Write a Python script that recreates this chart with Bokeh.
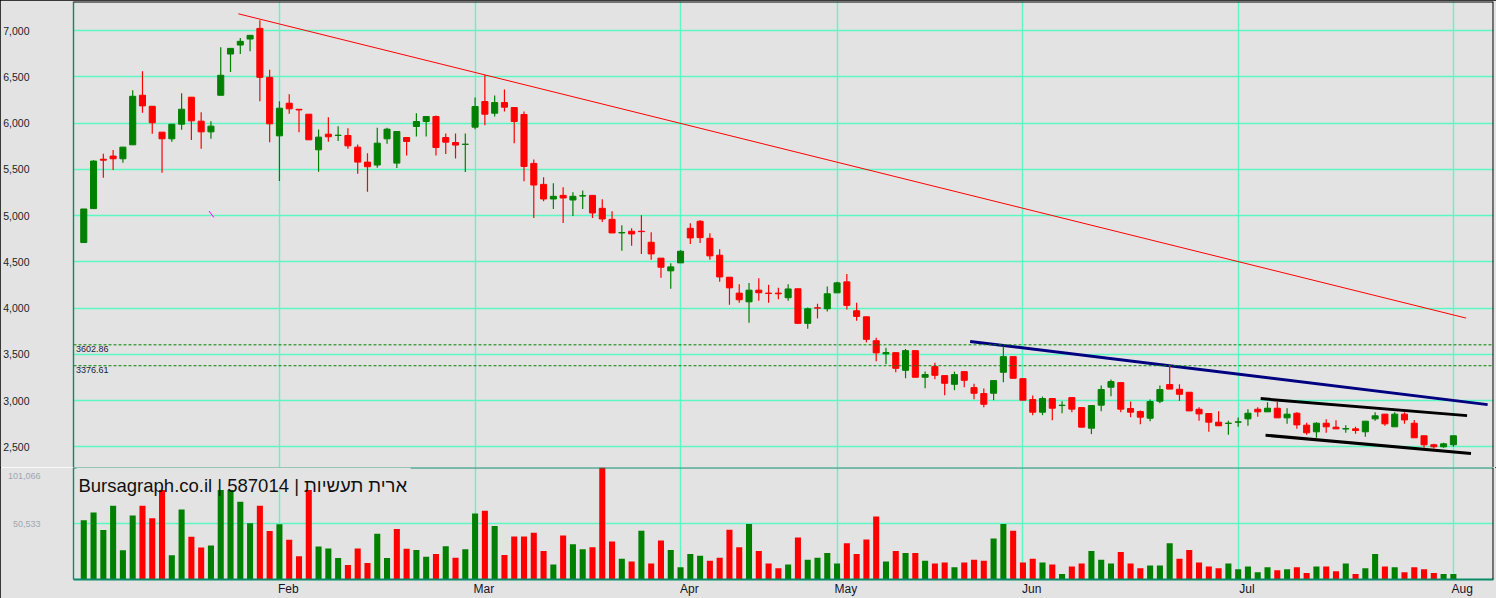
from bokeh.plotting import figure
from bokeh.layouts import column
from bokeh.models import (Range1d, FixedTicker, Span, Label, BoxAnnotation,
                          ColumnDataSource, NumeralTickFormatter)
from bokeh.embed import file_html
from bokeh.resources import INLINE

# ---------------- data ----------------
opens = [4709, 5076, 5610, 5644, 5615, 5766, 6302, 6183, 5903, 5831,
         5989, 6281, 6022, 5906, 6302, 6748, 6845, 6910, 7025, 6496,
         5863, 6216, 6150, 6097, 5712, 5881, 5867, 5867, 5741, 5579,
         5547, 5831, 5568, 5845, 5964, 6018, 6072, 5845, 5791, 5770,
         5957, 6234, 6108, 6223, 6169, 6094, 5565, 5338, 5180, 5219,
         5169, 5212, 5219, 5079, 4960, 4813, 4831, 4831, 4712, 4540,
         4403, 4489, 4863, 4939, 4755, 4572, 4334, 4162, 4068, 4194,
         4162, 4162, 4112, 4209, 3835, 4003, 3993, 4165, 4284, 3971,
         3906, 3647, 3505, 3518, 3327, 3540, 3252, 3367, 3270, 3176,
         3313, 3140, 3076, 3079, 3306, 3475, 3237, 3011, 2874, 3022,
         2946, 3032, 2924, 2701, 2950, 3144, 3194, 2914, 2881, 2809,
         2993, 3173, 3122, 3090, 2906, 2860, 2766, 2752, 2766, 2802,
         2906, 2878, 2917, 2813, 2863, 2734, 2662, 2755, 2712, 2692,
         2694, 2662, 2802, 2853, 2716, 2853, 2755, 2619, 2522, 2500,
         2522]
highs = [5072, 5600, 5669, 5709, 5741, 6356, 6561, 6183, 5903, 5989,
         6324, 6281, 6119, 6022, 6820, 6809, 6921, 6950, 7112, 6579,
         6237, 6313, 6150, 6097, 5932, 6065, 5968, 5946, 5770, 5676,
         5950, 5950, 5914, 5845, 6108, 6072, 6083, 5888, 5888, 5888,
         6277, 6522, 6300, 6363, 6169, 6126, 5608, 5414, 5349, 5306,
         5252, 5273, 5219, 5176, 5047, 4896, 4863, 5004, 4820, 4540,
         4486, 4626, 4917, 4950, 4809, 4637, 4334, 4259, 4271, 4324,
         4252, 4220, 4259, 4209, 4007, 4047, 4234, 4284, 4370, 4058,
         3906, 3680, 3572, 3518, 3558, 3540, 3313, 3410, 3270, 3313,
         3313, 3183, 3130, 3216, 3586, 3475, 3237, 3054, 3043, 3022,
         2993, 3032, 2924, 2946, 3162, 3227, 3194, 2989, 2892, 3011,
         3162, 3378, 3176, 3090, 2928, 2860, 2885, 2781, 2817, 2906,
         2928, 2982, 2993, 2917, 2874, 2759, 2766, 2799, 2788, 2734,
         2716, 2777, 2874, 2853, 2874, 2874, 2791, 2619, 2532, 2543,
         2619]
lows = [4709, 5076, 5410, 5493, 5572, 5766, 6112, 5885, 5464, 5799,
        5928, 5817, 5723, 5831, 6302, 6554, 6748, 6777, 6237, 5795,
        5374, 6101, 5903, 5820, 5475, 5799, 5806, 5723, 5453, 5259,
        5518, 5777, 5514, 5651, 5856, 5856, 5651, 5666, 5619, 5471,
        5935, 5978, 6072, 6126, 5784, 5371, 4975, 5155, 5072, 4921,
        4996, 5072, 4975, 4932, 4813, 4619, 4673, 4586, 4522, 4327,
        4209, 4489, 4694, 4705, 4522, 4284, 4036, 4058, 3842, 4079,
        4058, 4097, 4079, 3835, 3777, 3888, 3964, 4165, 3986, 3863,
        3630, 3424, 3392, 3306, 3241, 3252, 3133, 3230, 3058, 3112,
        3144, 3014, 2928, 3004, 3198, 3241, 3004, 2842, 2842, 2788,
        2863, 2874, 2712, 2637, 2885, 3047, 2874, 2820, 2745, 2777,
        2971, 3124, 2996, 2888, 2781, 2662, 2727, 2630, 2716, 2727,
        2824, 2878, 2813, 2748, 2694, 2630, 2597, 2651, 2694, 2651,
        2640, 2608, 2781, 2727, 2716, 2748, 2597, 2489, 2478, 2489,
        2500]
closes = [5072, 5590, 5600, 5615, 5741, 6291, 6187, 6004, 5831, 5989,
          6151, 6025, 5906, 5968, 6518, 6809, 6885, 6950, 6496, 5993,
          6162, 6155, 6143, 5820, 5849, 5853, 5870, 5755, 5579, 5529,
          5784, 5935, 5910, 5802, 6018, 6072, 5737, 5795, 5763, 5773,
          6180, 6097, 6223, 6173, 6018, 5532, 5331, 5180, 5209, 5191,
          5209, 5216, 5029, 4964, 4813, 4817, 4802, 4827, 4586, 4442,
          4446, 4615, 4759, 4762, 4565, 4337, 4219, 4090, 4194, 4166,
          4158, 4155, 4207, 3835, 3993, 4000, 4155, 4273, 4029, 3910,
          3662, 3516, 3519, 3349, 3540, 3252, 3281, 3273, 3187, 3281,
          3219, 3079, 2960, 3216, 3475, 3241, 3004, 2874, 3022, 2917,
          2950, 2907, 2712, 2946, 3119, 3205, 2907, 2874, 2820, 2989,
          3119, 3124, 3068, 2888, 2856, 2766, 2727, 2756, 2770, 2863,
          2878, 2917, 2813, 2853, 2737, 2651, 2755, 2716, 2694, 2697,
          2676, 2777, 2835, 2748, 2853, 2791, 2597, 2522, 2500, 2532,
          2619]
volumes = [53450, 60450, 44700, 66600, 26300, 57800, 66600, 55200, 86000, 21900,
           63100, 38500, 28900, 30700, 84000, 88000, 70100, 50800, 66600, 43800,
           49900, 35900, 21000, 85000, 29800, 28000, 19300, 13100, 28000, 14900,
           41200, 19300, 45600, 27700, 26600, 20500, 23100, 30000, 19600, 27400,
           59500, 62100, 48200, 22200, 38700, 38700, 42200, 25700, 13600, 39600,
           31800, 27400, 29200, 101000, 34400, 18800, 16200, 43900, 14400, 35200,
           26600, 11000, 23100, 21400, 17000, 19600, 44800, 29200, 50000, 25700,
           14400, 10100, 13600, 37800, 17900, 19600, 24000, 14400, 32600, 23100,
           36100, 56900, 16200, 25700, 24000, 24000, 17000, 14400, 15300, 11000,
           15300, 17900, 17000, 37000, 50000, 43900, 15300, 18800, 15300, 13600,
           4900, 11800, 14400, 25700, 17900, 14400, 24800, 14400, 10100, 12700,
           12700, 32600, 18800, 26600, 15300, 11800, 10100, 14400, 9200, 11800,
           6600, 11000, 8400, 9200, 11000, 5800, 11800, 11800, 7500, 14400,
           4900, 10100, 23100, 11800, 11000, 6600, 11000, 9200, 5800, 4900,
           4900]

month_starts = [21, 41, 62, 78, 97, 119, 141]          # trading-day index of 1st session
month_labels = ["Feb", "Mar", "Apr", "May", "Jun", "Jul", "Aug"]
price_ticks = [2500, 3000, 3500, 4000, 4500, 5000, 5500, 6000, 6500, 7000]
vol_ticks = [50533, 101066]
level_values = [3602.86, 3376.61]
level_labels = ["3602.86", "3376.61"]

# trend lines drawn on the chart (index, price)
red_trend_x = [16.8, 142.3]
red_trend_y = [7183, 3892]
blue_trend_x = [91.6, 144.5]
blue_trend_y = [3639, 2956]
chan_top_x = [121.3, 142.4]
chan_top_y = [3021, 2837]
chan_bot_x = [121.8, 142.8]
chan_bot_y = [2625, 2427]
stray_x = [13.8, 14.3]
stray_y = [5050, 4980]

title_text = "Bursagraph.co.il | 587014 | ארית תעשיות"

# ---------------- styling ----------------
BG = "#E3E3E3"
GRID = "#5EF7C4"
FRAME = "#0B8A68"
UP = "#008000"
DOWN = "#FF0000"
FONT = "Liberation Sans"

n = len(closes)
idx = list(range(1, n + 1))
body_col = [UP if c >= o else DOWN for o, c in zip(opens, closes)]
vol_col = [UP] + [UP if closes[i] >= closes[i - 1] else DOWN for i in range(1, n)]

src = ColumnDataSource(dict(
    x=idx, o=opens, h=highs, l=lows, c=closes, v=volumes,
    top=[max(o, c) for o, c in zip(opens, closes)],
    bot=[min(o, c) for o, c in zip(opens, closes)],
    bc=body_col, vc=vol_col,
))

X0, X1 = -0.05, 145.1
P0, P1 = 2276, 7316
xr = Range1d(X0, X1)
W = 1496

# ---------------- price panel ----------------
p = figure(width=W, height=467, x_range=xr, y_range=Range1d(P0, P1),
           output_backend="svg", toolbar_location=None,
           min_border_left=73, min_border_right=3, min_border_top=1, min_border_bottom=0)
p.background_fill_color = BG
p.border_fill_color = BG
p.outline_line_color = None
p.xaxis.visible = False
p.xgrid.ticker = FixedTicker(ticks=month_starts)
for g in (p.xgrid, p.ygrid):
    g.grid_line_color = GRID
    g.grid_line_width = 1.4
p.yaxis.ticker = FixedTicker(ticks=price_ticks)
p.yaxis.formatter = NumeralTickFormatter(format="0,0")
p.yaxis.major_label_standoff = 44
p.yaxis.major_tick_out = 0
p.yaxis.major_tick_in = 0
p.yaxis.minor_tick_out = 0
p.yaxis.minor_tick_in = 0
p.yaxis.axis_line_color = FRAME
p.yaxis.axis_line_width = 1.4
p.yaxis.major_label_text_font = FONT
p.yaxis.major_label_text_font_size = "10.5px"
p.yaxis.major_label_text_color = "#1E1E2A"

for lv, lt in zip(level_values, level_labels):
    p.add_layout(Span(location=lv, dimension="width", line_color=UP,
                      line_width=1, line_dash="3 2"))
    p.add_layout(Label(x=0.2, y=lv, text=lt, text_baseline="top", y_offset=-1,
                       text_font=FONT, text_font_size="9px", text_color="#1A1A3A"))

p.line(red_trend_x, red_trend_y, line_color="#FF0000", line_width=1)
p.line(blue_trend_x, blue_trend_y, line_color="#000080", line_width=3)
p.line(chan_top_x, chan_top_y, line_color="#000000", line_width=3)
p.line(chan_bot_x, chan_bot_y, line_color="#000000", line_width=3)
p.line(stray_x, stray_y, line_color="#FF00FF", line_width=1)

p.segment(x0="x", x1="x", y0="l", y1="h", source=src, line_color="bc", line_width=1.2)
p.vbar(x="x", width=0.62, top="top", bottom="bot", source=src,
       fill_color="bc", line_color="bc", line_width=1)

# picture border (top and right edges)
p.add_layout(Span(location=P1, dimension="width", line_color="#000000", line_width=2))
p.add_layout(Span(location=X1, dimension="height", line_color="#000000", line_width=2))

# ---------------- volume panel ----------------
v = figure(width=W, height=131, x_range=xr, y_range=Range1d(0, vol_ticks[1]),
           output_backend="svg", toolbar_location=None,
           min_border_left=73, min_border_right=3, min_border_top=0, min_border_bottom=16)
v.background_fill_color = BG
v.border_fill_color = BG
v.outline_line_color = None
v.xgrid.ticker = FixedTicker(ticks=month_starts)
v.ygrid.ticker = FixedTicker(ticks=vol_ticks[:1])
for g in (v.xgrid, v.ygrid):
    g.grid_line_color = GRID
    g.grid_line_width = 1.4

shift = 0.9  # month names start at their grid line
v.xaxis.ticker = FixedTicker(ticks=[m + shift for m in month_starts])
v.xaxis.major_label_overrides = {m + shift: lab for m, lab in zip(month_starts, month_labels)}
v.xaxis.major_tick_out = 0
v.xaxis.major_tick_in = 0
v.xaxis.minor_tick_out = 0
v.xaxis.minor_tick_in = 0
v.xaxis.major_label_standoff = 2
v.xaxis.axis_line_color = FRAME
v.xaxis.axis_line_width = 2
v.xaxis.major_label_text_font = FONT
v.xaxis.major_label_text_font_size = "12px"
v.xaxis.major_label_text_color = "#141428"

top_lab_drop = vol_ticks[1] * 9 / 115   # label printed just under its line
v.yaxis.ticker = FixedTicker(ticks=[vol_ticks[0], vol_ticks[1] - top_lab_drop])
v.yaxis.major_label_overrides = {vol_ticks[0]: f"{vol_ticks[0]:,}",
                                 vol_ticks[1] - top_lab_drop: f"{vol_ticks[1]:,}"}
v.yaxis.major_label_standoff = 33
v.yaxis.major_tick_out = 0
v.yaxis.major_tick_in = 0
v.yaxis.minor_tick_out = 0
v.yaxis.minor_tick_in = 0
v.yaxis.axis_line_color = FRAME
v.yaxis.axis_line_width = 1.4
v.yaxis.major_label_text_font = FONT
v.yaxis.major_label_text_font_size = "9px"
v.yaxis.major_label_text_color = "#9EA6B2"

v.vbar(x="x", width=0.62, top="v", bottom=0, source=src,
       fill_color="vc", line_color=None)

v.add_layout(Span(location=vol_ticks[1], dimension="width", line_color=FRAME, line_width=2))
v.add_layout(Span(location=X1, dimension="height", line_color="#000000", line_width=2))
v.add_layout(BoxAnnotation(left=0.25, right=34.4, bottom=vol_ticks[1] * 92 / 115,
                           top=vol_ticks[1], fill_color=BG, fill_alpha=1,
                           line_color=None))
v.add_layout(Label(x=0.46, y=vol_ticks[1] * 96.3 / 115, text=title_text,
                   text_baseline="alphabetic", text_font=FONT,
                   text_font_size="18.5px", text_color="#111111"))

layout = column(p, v, spacing=0,
                styles={"outline": "1px solid #000000", "outline-offset": "-1px"})

open("out.html", "w").write(file_html(layout, INLINE))
